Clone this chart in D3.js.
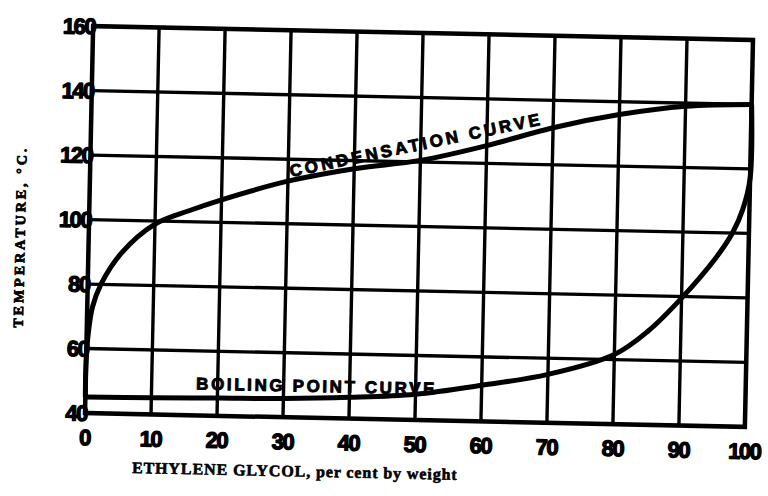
<!DOCTYPE html>
<html>
<head>
<meta charset="utf-8">
<script src="https://d3js.org/d3.v7.min.js"></script>
<style>
  body { margin: 0; background: #fff; }
</style>
</head>
<body>
<div id="vis"></div>
<script>
// Tick values
const X_TICKS = [0, 10, 20, 30, 40, 50, 60, 70, 80, 90, 100];
const Y_TICKS = [40, 60, 80, 100, 120, 140, 160];

// Condensation curve (per cent glycol, temperature C)
const COND_X = [0, 0, 0.3, 0.8, 2, 5, 10, 15, 20, 30, 40, 50, 60, 70, 80, 90, 100];
const COND_T = [45, 56, 66, 73, 80, 89.8, 99, 103.3, 107, 113.2, 117.5, 120.5, 125.5, 131.5, 136, 139, 140];

// Boiling point curve
const BOIL_X = [0, 10, 20, 30, 40, 50, 60, 70, 80, 85, 90, 95, 97.5, 99, 100, 100];
const BOIL_T = [45, 45.2, 45.5, 45.8, 46.6, 48, 51.2, 55, 61.6, 69, 79.5, 92, 100, 107.5, 117, 140];

// Frame
const FRAME_WIDTH = 768;
const FRAME_HEIGHT = 496;
const MARGINS = {left: 89, right: 19, top: 33, bottom: 76};
const VIS_WIDTH = FRAME_WIDTH - MARGINS.left - MARGINS.right;
const VIS_HEIGHT = FRAME_HEIGHT - MARGINS.top - MARGINS.bottom;

const FRAME = d3.select("#vis")
                .append("svg")
                .attr("width", FRAME_WIDTH)
                .attr("height", FRAME_HEIGHT);

// the scanned original sits a little crooked
const CX = MARGINS.left + VIS_WIDTH / 2;
const CY = MARGINS.top + VIS_HEIGHT / 2;
const G = FRAME.append("g")
               .attr("transform", "rotate(1.2," + CX + "," + CY + ")");

const X_SCALE = d3.scaleLinear().domain([0, 100]).range([MARGINS.left, MARGINS.left + VIS_WIDTH]);
const Y_SCALE = d3.scaleLinear().domain([40, 160]).range([MARGINS.top + VIS_HEIGHT, MARGINS.top]);

// grid
G.selectAll(".vgrid")
 .data(X_TICKS.slice(1, -1))
 .enter().append("line")
 .attr("x1", d => X_SCALE(d)).attr("x2", d => X_SCALE(d))
 .attr("y1", Y_SCALE(40)).attr("y2", Y_SCALE(160))
 .attr("stroke", "#000").attr("stroke-width", 3.4);

G.selectAll(".hgrid")
 .data(Y_TICKS.slice(1, -1))
 .enter().append("line")
 .attr("x1", X_SCALE(0)).attr("x2", X_SCALE(100))
 .attr("y1", d => Y_SCALE(d)).attr("y2", d => Y_SCALE(d))
 .attr("stroke", "#000").attr("stroke-width", 3.4);

G.append("rect")
 .attr("x", X_SCALE(0)).attr("y", Y_SCALE(160))
 .attr("width", X_SCALE(100) - X_SCALE(0))
 .attr("height", Y_SCALE(40) - Y_SCALE(160))
 .attr("fill", "none").attr("stroke", "#000").attr("stroke-width", 4.5);

// curves
const LINE = d3.line()
               .x(d => X_SCALE(d[0]))
               .y(d => Y_SCALE(d[1]))
               .curve(d3.curveCatmullRom.alpha(0.5));

G.append("path")
 .attr("d", LINE(d3.zip(COND_X, COND_T)))
 .attr("fill", "none").attr("stroke", "#000").attr("stroke-width", 5);

G.append("path")
 .attr("d", LINE(d3.zip(BOIL_X, BOIL_T)))
 .attr("fill", "none").attr("stroke", "#000").attr("stroke-width", 5);

// heavy scanned lettering
function heavy(sel, w) {
  return sel.attr("fill", "#000").attr("stroke", "#000").attr("stroke-width", w)
            .attr("stroke-linejoin", "round");
}

// tick labels
heavy(G.selectAll(".ylab")
 .data(Y_TICKS)
 .enter().append("text")
 .attr("x", X_SCALE(0) + 2)
 .attr("y", d => Y_SCALE(d))
 .attr("dy", "0.36em")
 .attr("text-anchor", "end")
 .attr("font-family", "Liberation Sans, Arial, sans-serif")
 .attr("font-weight", "bold")
 .attr("font-size", "22px")
 .attr("letter-spacing", "-1.5px")
 .text(d => d), 1.3);

heavy(G.selectAll(".xlab")
 .data(X_TICKS)
 .enter().append("text")
 .attr("x", d => X_SCALE(d))
 .attr("y", Y_SCALE(40) + 32)
 .attr("text-anchor", "middle")
 .attr("font-family", "Liberation Sans, Arial, sans-serif")
 .attr("font-weight", "bold")
 .attr("font-size", "22px")
 .attr("letter-spacing", "-1.5px")
 .text(d => d), 1.3);

// axis titles
heavy(G.append("text")
 .attr("x", 300).attr("y", 479)
 .attr("text-anchor", "middle")
 .attr("font-family", "Liberation Serif, serif")
 .attr("font-weight", "bold")
 .attr("font-size", "16px")
 .attr("letter-spacing", "0.9px")
 .text("ETHYLENE GLYCOL, per cent by weight"), 0.6);

heavy(G.append("text")
 .attr("transform", "translate(25,245) rotate(-90)")
 .attr("text-anchor", "middle")
 .attr("font-family", "Liberation Serif, serif")
 .attr("font-weight", "bold")
 .attr("font-size", "14px")
 .attr("letter-spacing", "3px")
 .text("TEMPERATURE, °C."), 0.8);

// curve labels
heavy(G.append("text")
 .attr("transform", "translate(" + X_SCALE(49.5) + "," + Y_SCALE(123.5) + ") rotate(-13)")
 .attr("text-anchor", "middle")
 .attr("font-family", "Liberation Sans, Arial, sans-serif")
 .attr("font-weight", "bold")
 .attr("font-size", "17px")
 .attr("letter-spacing", "3.2px")
 .text("CONDENSATION CURVE"), 0.9);

heavy(G.append("text")
 .attr("x", X_SCALE(35)).attr("y", Y_SCALE(48))
 .attr("text-anchor", "middle")
 .attr("font-family", "Liberation Sans, Arial, sans-serif")
 .attr("font-weight", "bold")
 .attr("font-size", "17px")
 .attr("letter-spacing", "2.6px")
 .text("BOILING POINT CURVE"), 0.9);
</script>
</body>
</html>
